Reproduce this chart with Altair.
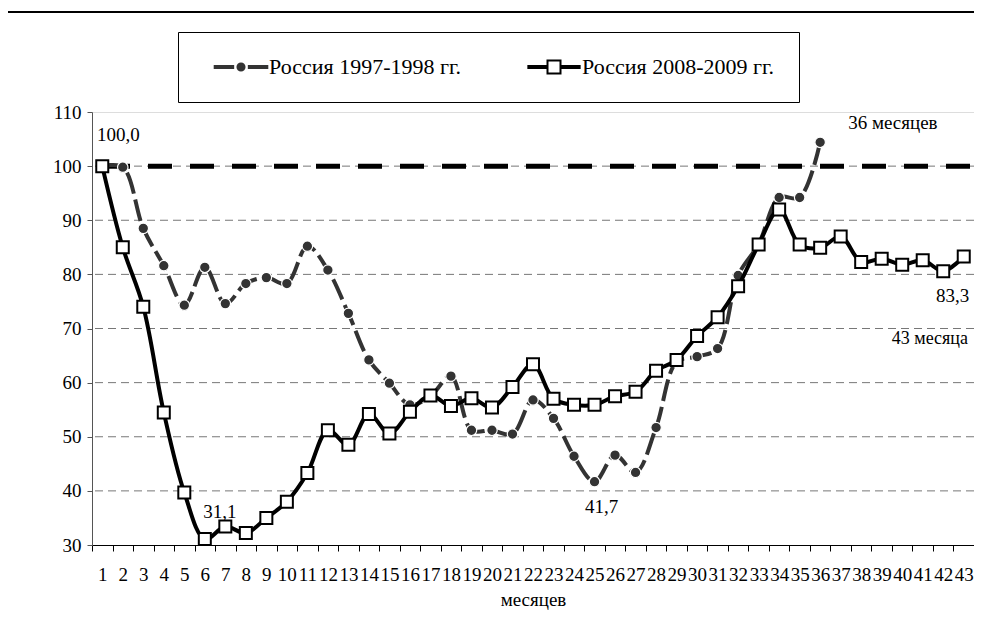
import altair as alt
import pandas as pd

# ---------------- data ----------------
months = list(range(1, 44))
russia_1997 = [100.0, 99.8, 88.5, 81.6, 74.3, 81.3, 74.6, 78.3, 79.4, 78.3,
               85.2, 80.8, 72.8, 64.2, 59.9, 55.9, 57.5, 61.2, 51.2, 51.2,
               50.5, 56.8, 53.4, 46.4, 41.7, 46.6, 43.4, 51.7, 63.8, 64.8,
               66.3, 79.8, 85.6, 94.2, 94.2, 104.4]
russia_2008 = [100.0, 85.0, 74.0, 54.5, 39.7, 31.1, 33.4, 32.2, 35.0, 38.0,
               43.3, 51.2, 48.5, 54.2, 50.6, 54.6, 57.6, 55.7, 57.1, 55.4,
               59.2, 63.4, 57.0, 55.9, 55.9, 57.5, 58.3, 62.2, 64.2, 68.6,
               72.1, 77.8, 85.5, 92.0, 85.5, 84.9, 87.0, 82.3, 82.9, 81.8,
               82.6, 80.6, 83.3]
series_names = ["Россия 1997-1998 гг.", "Россия 2008-2009 гг."]
y_ticks = [30, 40, 50, 60, 70, 80, 90, 100, 110]
grid_values = [40, 50, 60, 70, 80, 90, 100]
ref_value = [100]
x_title = "месяцев"

# annotations: text, anchor month, anchor value
ann_100 = ("100,0", 1, 100.0)
ann_311 = ("31,1", 6, 31.1)
ann_417 = ("41,7", 25, 41.7)
ann_833 = ("83,3", 43, 83.3)
ann_43m = ("43 месяца", 43, 83.3)
ann_36m = ("36 месяцев", 36, 104.4)

FONT = "Liberation Serif"

df1997 = pd.DataFrame({"month": months[:len(russia_1997)], "value": russia_1997})
df2008 = pd.DataFrame({"month": months, "value": russia_2008})
grid_df = pd.DataFrame({"month": [1] * len(grid_values), "value": grid_values})
ref_df = pd.DataFrame({"month": [1], "value": ref_value})
legend_df = pd.DataFrame({"series": series_names})
one = pd.DataFrame({"k": [0]})

xscale = alt.Scale(domain=months, paddingInner=0, paddingOuter=0)
yscale = alt.Scale(domain=[30, 110], nice=False, zero=False)

x_axis = alt.Axis(title=x_title, labelAngle=0, tickBand="extent",
                  tickSize=6, labelPadding=14, labelOverlap=False,
                  labelFontSize=19, labelFont=FONT, labelColor="black",
                  titleFont=FONT, titleFontSize=19, titleFontWeight="normal",
                  titleColor="black", titlePadding=6,
                  domainColor="black", tickColor="black", grid=False)
y_axis = alt.Axis(values=y_ticks, title=None, grid=False, tickSize=5,
                  labelPadding=6, labelFontSize=19, labelFont=FONT,
                  labelColor="black", domainColor="#555", tickColor="#555")
x_enc = alt.X("month:O", scale=xscale, axis=x_axis)
y_enc = alt.Y("value:Q", scale=yscale, axis=y_axis)

grid = alt.Chart(grid_df).mark_rule(color="#777777", strokeWidth=1, strokeDash=[8, 5]).encode(
    y=y_enc)

ref = alt.Chart(ref_df).mark_rule(color="black", strokeWidth=5, strokeDash=[24, 18],
                                  strokeDashOffset=38).encode(y=y_enc)

line1997 = alt.Chart(df1997).mark_line(interpolate="catmull-rom", color="#333333",
                                       strokeWidth=4, strokeDash=[22, 6]).encode(
    x=x_enc, y=y_enc)
pts1997 = alt.Chart(df1997).mark_point(shape="circle", filled=True, size=110, fill="#333333",
                                       stroke="white", strokeWidth=1.2, opacity=1).encode(
    x=x_enc, y=y_enc)
line2008 = alt.Chart(df2008).mark_line(interpolate="catmull-rom", color="black",
                                       strokeWidth=4).encode(x=x_enc, y=y_enc)
pts2008 = alt.Chart(df2008).mark_point(shape="square", filled=True, size=144, fill="white",
                                       stroke="black", strokeWidth=2, opacity=1).encode(
    x=x_enc, y=y_enc)

# legend (built from a scale, drawn by Vega-Lite's legend)
sym1 = ("M-4.2,-0.3H-1.05V0.3H-4.2Z M1.05,-0.3H4.2V0.3H1.05Z "
        "M0.7,0C0.7,0.387 0.387,0.7 0,0.7C-0.387,0.7 -0.7,0.387 -0.7,0"
        "C-0.7,-0.387 -0.387,-0.7 0,-0.7C0.387,-0.7 0.7,-0.387 0.7,0Z")
sym2 = ("M-4.1,-0.15H-1 M-4.1,0.15H-1 M1,-0.15H4.1 M1,0.15H4.1 "
        "M-1,-1H1V1H-1Z")
legend = alt.Legend(title=None, orient="none", legendX=86, legendY=-80,
                    direction="horizontal", padding=24, strokeColor="black",
                    fillColor="white", symbolSize=169, symbolStrokeWidth=2,
                    symbolOffset=28, labelOffset=17, columnPadding=53,
                    labelFont=FONT, labelFontSize=22, labelColor="black", labelLimit=400,
                    symbolOpacity=1)
leg_layer = alt.Chart(legend_df).mark_point(filled=True, opacity=1).encode(
    shape=alt.Shape("series:N", scale=alt.Scale(domain=series_names, range=[sym1, sym2]),
                    legend=legend),
    fill=alt.Fill("series:N", scale=alt.Scale(domain=series_names, range=["#333333", "white"]),
                  legend=legend),
    stroke=alt.Stroke("series:N", scale=alt.Scale(domain=series_names, range=["transparent", "black"]),
                      legend=legend),
).transform_filter("false")


def ann(item, dx, dy, align="center", size=19):
    d = pd.DataFrame({"label": [item[0]], "month": [item[1]], "value": [item[2]]})
    return alt.Chart(d).mark_text(font=FONT, fontSize=size, color="black", align=align,
                                  baseline="middle", dx=dx, dy=dy).encode(
        x=x_enc, y=y_enc, text="label:N")


texts = [
    ann(ann_100, 16, -31),
    ann(ann_311, 15, -27),
    ann(ann_417, 7, 25),
    ann(ann_833, -11, 39),
    ann(ann_43m, -72, 82, "left", 18),
    ann(ann_36m, 28, -19, "left"),
]

frame_left = alt.Chart(one).mark_rect(color="black").encode(
    x=alt.value(-88), x2=alt.value(-86), y=alt.value(-101), y2=alt.value(499))
frame_top = alt.Chart(one).mark_rect(color="black").encode(
    x=alt.value(-88), x2=alt.value(900), y=alt.value(-101), y2=alt.value(-99))

chart = alt.layer(
    grid, ref, line1997, pts1997, line2008, pts2008, leg_layer, *texts, frame_left, frame_top
).properties(
    width=882, height=433,
    padding={"left": 84, "top": 104, "right": 0, "bottom": 66},
    autosize=alt.AutoSizeParams(type="none"),
).configure_view(stroke=None).configure(font=FONT)

chart.save("out.html", embed_options={"renderer": "svg", "actions": False})
